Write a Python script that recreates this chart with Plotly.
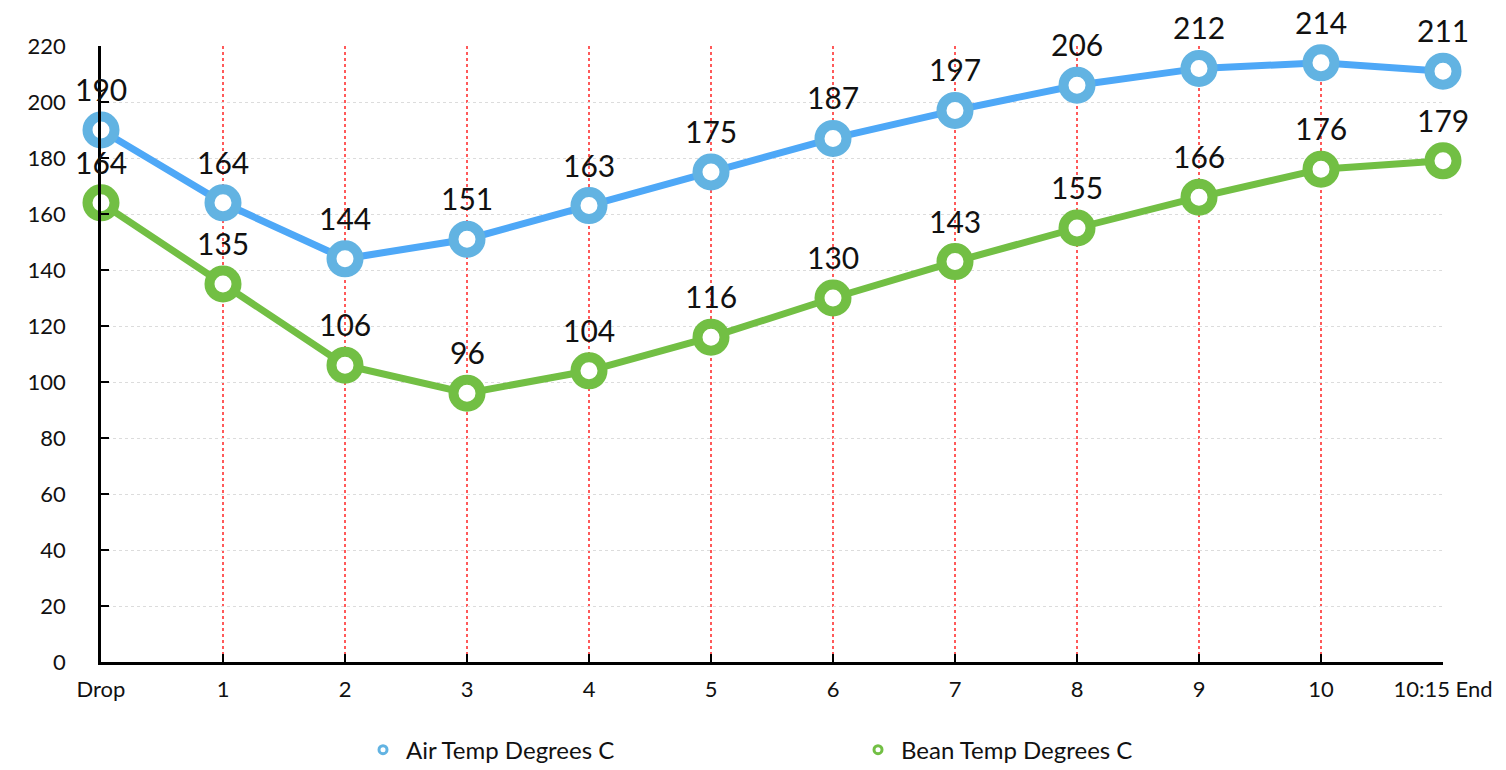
import plotly.graph_objects as go

categories = ["Drop", "1", "2", "3", "4", "5", "6", "7", "8", "9", "10", "10:15 End"]
air_temp = [190, 164, 144, 151, 163, 175, 187, 197, 206, 212, 214, 211]
bean_temp = [164, 135, 106, 96, 104, 116, 130, 143, 155, 166, 176, 179]

series = [
    ("Air Temp Degrees C", air_temp, "#4ea8f7", "#62b3e2"),
    ("Bean Temp Degrees C", bean_temp, "#72bf44", "#72bf44"),
]

FONT = "Lato"
fig = go.Figure()
for name, vals, lcol, mcol in series:
    fig.add_trace(go.Scatter(
        x=categories, y=vals, mode="lines+markers", name=name,
        line=dict(color=lcol, width=7),
        marker=dict(size=27, color="white", line=dict(color=mcol, width=10)),
        showlegend=False, cliponaxis=False,
    ))
    for c, v in zip(categories, vals):
        fig.add_annotation(x=c, y=v, text=str(v), showarrow=False,
                           yshift=41, yanchor="middle",
                           font=dict(family=FONT, size=30, color="#111111"))
for name, vals, lcol, mcol in series:
    fig.add_trace(go.Scatter(
        x=[None], y=[None], mode="markers", name=name,
        marker=dict(size=8, color="white", line=dict(color=mcol, width=3)),
        showlegend=True,
    ))

fig.update_layout(
    width=1490, height=762,
    margin=dict(l=93, r=55, t=38, b=108, autoexpand=False),
    paper_bgcolor="white", plot_bgcolor="white",
    font=dict(family=FONT, size=20, color="#111111"),
    legend=dict(orientation="h", x=0.193, xanchor="left", y=-0.143, yanchor="middle",
                entrywidth=444, entrywidthmode="pixels", itemwidth=36,
                font=dict(family=FONT, size=24, color="#111111")),
)
fig.update_xaxes(
    type="category", range=[0, len(categories) - 1],
    showline=True, linecolor="black", linewidth=2.5,
    ticks="inside", ticklen=8, tickwidth=2, tickcolor="black",
    showgrid=True, gridcolor="#ff5a5a", griddash="dot", gridwidth=2,
    tickfont=dict(family=FONT, size=22, color="#111111"),
    ticklabelstandoff=6, automargin=False,
    zeroline=False,
)
fig.update_yaxes(
    range=[0, 220], dtick=20,
    showline=True, linecolor="black", linewidth=2.5,
    ticks="inside", ticklen=8, tickwidth=2, tickcolor="black",
    showgrid=True, gridcolor="#dcdcdc", griddash="dot", gridwidth=1,
    tickfont=dict(family=FONT, size=22, color="#111111"),
    ticklabelstandoff=28, automargin=False,
    zeroline=False,
)

fig.write_html("out.html")
